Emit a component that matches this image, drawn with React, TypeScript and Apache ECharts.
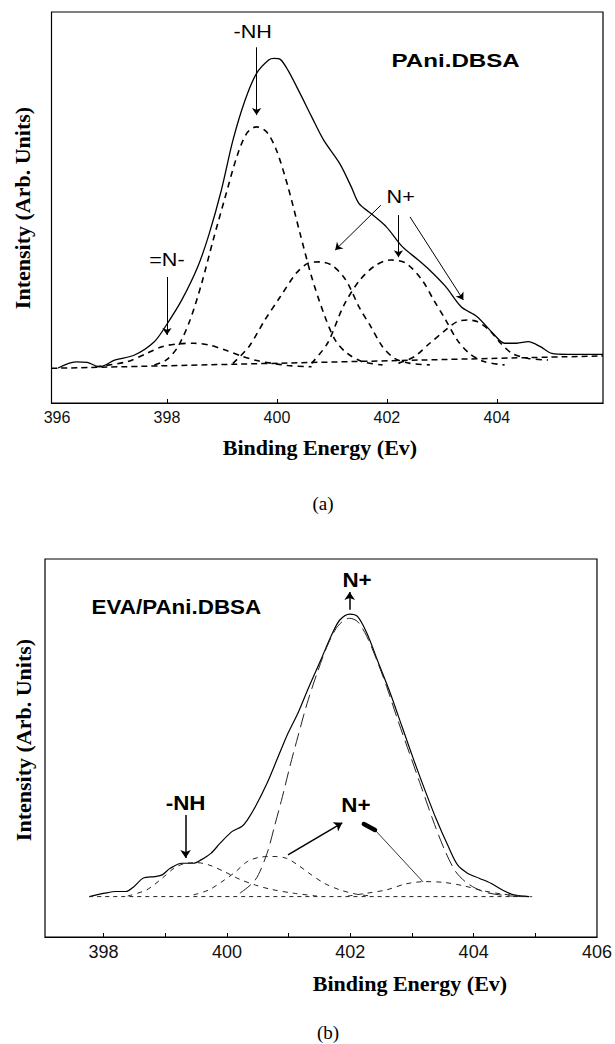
import React, { useEffect, useRef } from "react";
import * as echarts from "echarts";

// ---------- axis ticks ----------
const aTickLabels = [396, 398, 400, 402, 404];
const aTickMarks = [398, 400, 402, 404];
const bTickLabels = [398, 400, 402, 404, 406];
const bTickMarks = [398, 399, 400, 401, 402, 403, 404, 405];

// ---------- panel (a) PAni.DBSA ----------
const aTotalE = [396.02, 396.34, 396.55, 396.77, 397.06, 397.41, 397.77, 397.99, 398.27, 398.56, 398.77, 398.99, 399.2, 399.42, 399.63, 399.85, 399.95, 400.06, 400.2, 400.42, 400.63, 400.85, 401.14, 401.35, 401.49, 401.71, 401.99, 402.28, 402.57, 402.78, 403.07, 403.35, 403.64, 403.93, 404.14, 404.36, 404.57, 404.79, 405.0, 405.29, 405.93];
const aTotalI = [0, 2.0, 1.8, 0.4, 2.6, 4.2, 8.5, 13.9, 22, 32.7, 43.5, 57.5, 73.6, 86.5, 95.2, 99.5, 100, 99.7, 96.2, 88.7, 81.2, 73.6, 66.1, 58.6, 53.2, 49.9, 45.6, 39.2, 34.9, 31.6, 26.3, 19.8, 16.6, 11.2, 8.0, 8.0, 8.5, 6.9, 4.7, 4.4, 4.4];

const aImineE = [396.7, 397.27, 397.63, 397.91, 398.2, 398.49, 398.77, 399.06, 399.35, 399.63, 399.92, 400.2, 400.63];
const aImineI = [0.4, 2.0, 4.7, 6.9, 7.8, 8.0, 7.4, 5.8, 3.9, 2.4, 1.5, 0.8, 0.4];

const aAmineE = [397.77, 397.99, 398.2, 398.42, 398.63, 398.84, 399.06, 399.27, 399.45, 399.63, 399.81, 399.99, 400.2, 400.42, 400.63, 400.85, 401.06, 401.28, 401.56, 401.92];
const aAmineI = [1.0, 2.6, 6.9, 15.5, 27.3, 41.3, 55.3, 68.2, 75.8, 77.9, 76.3, 70.4, 58.6, 43.5, 29.5, 17.7, 9.0, 4.7, 2.0, 1.0];

const aNp1E = [399.2, 399.49, 399.78, 400.06, 400.35, 400.56, 400.78, 400.99, 401.21, 401.35, 401.49, 401.71, 401.92, 402.14, 402.42, 402.78];
const aNp1I = [1.5, 6.9, 15.5, 23.0, 30.6, 33.8, 34.3, 33.3, 29.5, 25.2, 19.8, 13.3, 6.9, 3.1, 1.5, 1.0];

const aNp2E = [400.63, 400.92, 401.21, 401.49, 401.78, 402.07, 402.35, 402.64, 402.85, 403.07, 403.28, 403.5, 403.78, 404.14];
const aNp2I = [1.5, 8.0, 20.0, 28.0, 33.0, 34.9, 33.8, 28.4, 22.0, 15.5, 9.0, 4.7, 2.0, 1.0];

const aNp3E = [402.21, 402.5, 402.78, 403.07, 403.28, 403.46, 403.64, 403.86, 404.07, 404.28, 404.57, 404.93];
const aNp3I = [1.5, 3.7, 8.0, 12.3, 15.0, 15.5, 15.0, 12.3, 8.0, 4.7, 3.1, 2.6];

const aBaseE = [395.9, 405.93];
const aBaseI = [-0.1, 3.9];

// ---------- panel (b) EVA/PAni.DBSA ----------
const bTotalE = [397.77, 398.02, 398.2, 398.36, 398.49, 398.64, 398.83, 398.95, 399.08, 399.27, 399.46, 399.58, 399.74, 399.89, 400.08, 400.24, 400.33, 400.46, 400.65, 400.83, 400.99, 401.15, 401.33, 401.52, 401.71, 401.83, 401.99, 402.12, 402.27, 402.46, 402.65, 402.84, 403.03, 403.21, 403.4, 403.59, 403.74, 403.9, 404.09, 404.28, 404.46, 404.65, 404.9];
const bTotalI = [0, 1.2, 1.8, 1.8, 3.5, 6.5, 7.1, 7.7, 10.0, 11.8, 11.8, 13.0, 15.3, 18.9, 23.0, 24.8, 27.1, 31.8, 40.1, 49.5, 57.8, 64.9, 74.3, 83.7, 93.2, 97.9, 100, 99.1, 93.2, 82.5, 71.9, 60.1, 48.3, 37.7, 27.1, 17.7, 11.2, 8.3, 6.5, 4.7, 2.4, 0.6, 0];

const bAmineE = [398.39, 398.7, 398.95, 399.14, 399.33, 399.52, 399.71, 399.96, 400.21, 400.46, 400.71, 401.08, 401.46];
const bAmineI = [0.2, 2.4, 6.5, 10.0, 11.8, 12.0, 11.2, 8.8, 6.1, 4.1, 2.6, 1.2, 0.2];

const bNp1E = [399.46, 399.71, 399.96, 400.14, 400.33, 400.52, 400.74, 400.96, 401.15, 401.33, 401.58, 401.83, 402.09, 402.34];
const bNp1I = [0.6, 2.4, 5.9, 8.8, 12.4, 13.9, 14.2, 13.6, 11.2, 8.3, 4.7, 2.4, 0.9, 0.2];

const bNp2E = [400.21, 400.46, 400.65, 400.77, 400.9, 401.02, 401.15, 401.3, 401.46, 401.62, 401.77, 401.9, 401.99, 402.12, 402.27, 402.43, 402.59, 402.77, 402.96, 403.15, 403.34, 403.53, 403.71, 403.9, 404.15, 404.46, 404.78];
const bNp2I = [1.2, 5.9, 15.3, 24.8, 35.4, 46.0, 56.6, 68.4, 79.0, 88.4, 94.9, 97.9, 98.5, 97.3, 92.0, 83.7, 74.3, 62.5, 50.7, 38.9, 27.1, 16.5, 8.8, 4.7, 1.8, 0.5, 0];

const bNp3E = [401.96, 402.27, 402.59, 402.9, 403.21, 403.53, 403.84, 404.15, 404.46, 404.84];
const bNp3I = [0.2, 1.2, 2.4, 4.5, 5.3, 5.0, 3.8, 2.1, 0.9, 0.2];

const bBaseE = [397.77, 404.95];
const bBaseI = [0, 0];

// ---------- annotations (data coordinates) ----------
const aLabels = [
  { text: "-NH", at: [399.56, 108.6], bold: false },
  { text: "PAni.DBSA", at: [403.25, 99.5], bold: true },
  { text: "=N-", at: [398.0, 34.9], bold: false },
  { text: "N+", at: [402.25, 55.2], bold: false },
];
const aArrows = [
  [399.63, 103.6, 399.63, 81.7],
  [398.0, 29.4, 398.0, 10.7],
  [401.89, 52.6, 401.06, 38.1],
  [402.21, 49.4, 402.21, 35.8],
  [402.42, 48.8, 403.39, 22.0],
];
const bLabels = [
  { text: "EVA/PAni.DBSA", at: [399.18, 102.5], bold: true },
  { text: "N+", at: [402.11, 112.0], bold: true },
  { text: "-NH", at: [399.33, 33.1], bold: true },
  { text: "N+", at: [402.09, 32.5], bold: true },
];
const bArrows = [
  [401.99, 101.5, 401.99, 107.8],
  [399.33, 28.9, 399.33, 13.7],
  [400.99, 14.8, 401.87, 26.1],
];
const bPlainLines = [[403.18, 5.2, 402.4, 23.6]];
const bBlobs = [[402.4, 23.6, 402.22, 25.7]];

const zip = (xs: number[], ys: number[]) => xs.map((x, i) => [x, ys[i]]);

const SANS = '"Liberation Sans", Arial, sans-serif';
const SERIF = '"Liberation Serif", "Times New Roman", serif';

export default function App() {
  const ref = useRef<HTMLDivElement>(null);

  useEffect(() => {
    if (!ref.current) return;
    const chart = echarts.init(ref.current, null, { renderer: "svg" });

    const solid = (name: string, e: number[], i: number[], g: number, w = 1.3) => ({
      name, type: "line", xAxisIndex: g, yAxisIndex: g, data: zip(e, i),
      showSymbol: false, smooth: 0.3, silent: true,
      lineStyle: { color: "#000", width: w, type: "solid" },
    });
    const dashed = (name: string, e: number[], i: number[], g: number, w: number, dash: number[], color = "#000") => ({
      name, type: "line", xAxisIndex: g, yAxisIndex: g, data: zip(e, i),
      showSymbol: false, smooth: 0.3, silent: true,
      lineStyle: { color, width: w, type: dash },
    });

    const arrowML = (arr: number[][], width: number) =>
      arr.map((a) => [{ coord: [a[0], a[1]], symbol: "none" }, { coord: [a[2], a[3]], symbol: "arrow", lineStyle: { width } }]);

    const aBase: any = dashed("baseA", aBaseE, aBaseI, 0, 1.5, [6, 4]);
    aBase.markLine = {
      silent: true, animation: false, symbolSize: 7,
      label: { show: false },
      lineStyle: { color: "#000", width: 1, type: "solid" },
      data: arrowML(aArrows, 1),
    };
    const bBase: any = dashed("baseB", bBaseE, bBaseI, 1, 1, [4, 4], "#222");
    bBase.markLine = {
      silent: true, animation: false, symbolSize: 8,
      label: { show: false },
      lineStyle: { color: "#000", width: 1, type: "solid" },
      data: [
        ...arrowML(bArrows, 1.5),
        ...bPlainLines.map((a) => [{ coord: [a[0], a[1]], symbol: "none" }, { coord: [a[2], a[3]], symbol: "none", lineStyle: { width: 0.8 } }]),
        ...bBlobs.map((a) => [{ coord: [a[0], a[1]], symbol: "none" }, { coord: [a[2], a[3]], symbol: "none", lineStyle: { width: 4.5, cap: "round" } }]),
      ],
    };

    const xAxisCommon = (g: number, min: number, max: number, ticks: number[], labels: number[], fs: number) => ({
      type: "value", gridIndex: g, min, max,
      axisLine: { show: true, onZero: false, lineStyle: { color: "#000", width: 1.2 } },
      axisTick: { show: true, inside: true, length: 4, customValues: ticks, lineStyle: { color: "#000" } },
      axisLabel: { show: true, customValues: labels, fontSize: fs, fontFamily: SANS, color: "#111", margin: 6 },
      splitLine: { show: false },
    });
    const yAxisCommon = (g: number, min: number, max: number) => ({
      type: "value", gridIndex: g, min, max,
      axisLine: { show: false }, axisTick: { show: false }, axisLabel: { show: false }, splitLine: { show: false },
    });

    chart.setOption({
      animation: false,
      backgroundColor: "#fff",
      grid: [
        { left: 51.5, top: 12, width: 551.5, height: 391, show: true, borderColor: "#000", borderWidth: 1.2, backgroundColor: "transparent" },
        { left: 45, top: 559, width: 558, height: 378, show: true, borderColor: "#000", borderWidth: 1.2, backgroundColor: "transparent" },
      ],
      xAxis: [
        xAxisCommon(0, 395.9, 405.93, aTickMarks, aTickLabels, 16),
        xAxisCommon(1, 397.05, 406, bTickMarks, bTickLabels, 18),
      ],
      yAxis: [yAxisCommon(0, -11.3, 115), yAxisCommon(1, -14.3, 119.5)],
      series: [
        solid("totalA", aTotalE, aTotalI, 0, 1.3),
        dashed("imineA", aImineE, aImineI, 0, 1.6, [6, 5]),
        dashed("amineA", aAmineE, aAmineI, 0, 1.6, [6, 5]),
        dashed("np1A", aNp1E, aNp1I, 0, 1.6, [6, 5]),
        dashed("np2A", aNp2E, aNp2I, 0, 1.6, [6, 5]),
        dashed("np3A", aNp3E, aNp3I, 0, 1.6, [6, 5]),
        aBase,
        solid("totalB", bTotalE, bTotalI, 1, 1.2),
        dashed("amineB", bAmineE, bAmineI, 1, 1, [5, 5], "#222"),
        dashed("np1B", bNp1E, bNp1I, 1, 1, [5, 5], "#222"),
        dashed("np2B", bNp2E, bNp2I, 1, 1, [14, 6], "#222"),
        dashed("np3B", bNp3E, bNp3I, 1, 1, [5, 5], "#222"),
        bBase,
      ],
    });

    const txt = (text: string, x: number, y: number, font: string, opts: any = {}) => ({
      type: "text", x, y, silent: true, ...opts,
      style: { text, font, fill: "#000", align: "center", verticalAlign: "middle" },
    });

    const graphics: any[] = [];
    aLabels.forEach((l) => {
      const p = chart.convertToPixel({ gridIndex: 0 } as any, l.at) as number[];
      const font = l.bold ? `bold 19px ${SANS}` : `18px ${SANS}`;
      graphics.push(txt(l.text, p[0], p[1], font, { scaleX: l.bold ? 1.27 : 1.2 }));
    });
    bLabels.forEach((l) => {
      const p = chart.convertToPixel({ gridIndex: 1 } as any, l.at) as number[];
      graphics.push(txt(l.text, p[0], p[1], `bold 20px ${SANS}`, { scaleX: 1.12 }));
    });
    // axis titles and captions
    graphics.push(txt("Intensity (Arb. Units)", 22, 208, `bold 22px ${SERIF}`, { rotation: Math.PI / 2 }));
    graphics.push(txt("Binding Energy (Ev)", 320, 447, `bold 22px ${SERIF}`));
    graphics.push(txt("(a)", 323, 503, `19px ${SERIF}`));
    graphics.push(txt("Intensity (Arb. Units)", 23, 740, `bold 22px ${SERIF}`, { rotation: Math.PI / 2 }));
    graphics.push(txt("Binding Energy (Ev)", 410, 983, `bold 22px ${SERIF}`));
    graphics.push(txt("(b)", 328, 1032, `19px ${SERIF}`));

    chart.setOption({ graphic: graphics });

    return () => chart.dispose();
  }, []);

  return (
    <div
      ref={ref}
      style={{ position: "absolute", left: 0, top: 0, width: 615, height: 1044, background: "#fff" }}
    />
  );
}
